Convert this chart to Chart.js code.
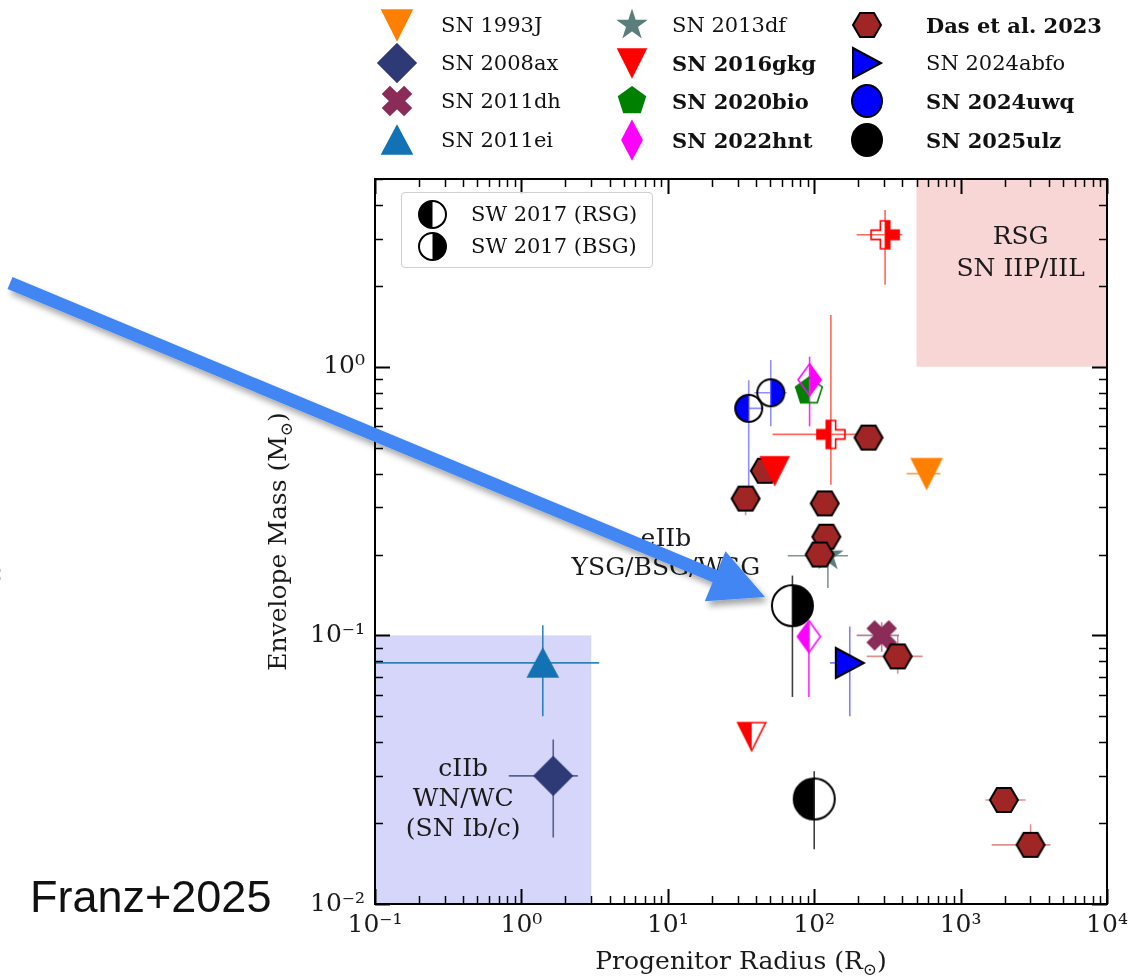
<!DOCTYPE html>
<html>
<head>
<meta charset="utf-8">
<script src="https://cdn.jsdelivr.net/npm/chart.js@4.4.1/dist/chart.umd.min.js"></script>
<style>
  html, body { margin: 0; padding: 0; background: #fff; }
  #wrap { position: relative; width: 1134px; height: 978px; overflow: hidden; background: #fff; }
  #chart { position: absolute; left: 0; top: 0; }
  .leg-text { position: absolute; font-family: "DejaVu Serif", serif; font-size: 21px; line-height: 1; color: #111; white-space: nowrap; transform: translateY(-50%); }
  .leg-text.bold { font-weight: bold; }
  .leg-mark { position: absolute; }
  #inset { position: absolute; left: 401px; top: 192px; width: 250px; height: 74px; border: 1px solid #d0d0d0; border-radius: 4px; background: rgba(255,255,255,0.85); }
  #inset .leg-text { font-size: 21px; }
  #franz { position: absolute; left: 30px; top: 874px; font-family: "Liberation Sans", Arial, sans-serif; font-size: 45px; line-height: 45px; color: #111; }
  #colon { position: absolute; left: -5px; top: 560px; font-family: "Liberation Sans", Arial, sans-serif; font-size: 22px; font-weight: bold; color: #000; }
  #arrow { position: absolute; left: 0; top: 0; }
</style>
</head>
<body>
<div id="wrap">
  <canvas id="chart" width="1134" height="978"></canvas>
  <div id="legend"></div>
  <div id="inset"></div>
  <div id="colon">:</div>
  <div id="franz">Franz+2025</div>
  <svg id="arrow" width="1134" height="978"></svg>
</div>
<script>
// rows: [radius (Rsun), envelope mass (Msun), radius lo, radius hi, mass lo, mass hi]
const sn1993J   = [[586, 0.40, 428, 730, null, null]];
const sn2008ax  = [[1.65, 0.030, 0.82, 2.43, 0.0177, 0.041]];
const sn2011dh  = [[289, 0.100, 195, 380, 0.087, 0.112]];
const sn2011ei  = [[1.40, 0.079, 0.05, 3.4, 0.050, 0.109]];
const sn2013df  = [[124, 0.198, 66, 170, 0.15, 0.26]];
const sn2016gkg = [
  [53.7, 0.41, null, null, null, null],
  [37.4, 0.042, null, null, null, null],
  [305, 3.1, 195, 400, 2.02, 3.83],
  [130, 0.56, 52, 205, 0.364, 1.56]
];
const sn2020bio = [[92, 0.81, null, null, null, null]];
const sn2022hnt = [
  [93, 0.895, null, null, 0.60, 1.09],
  [92, 0.099, null, null, 0.059, 0.112]
];
const das2023 = [
  [235, 0.545, null, null, null, null],
  [46, 0.41, null, null, null, null],
  [34, 0.323, 31, 38, 0.28, 0.36],
  [118, 0.31, null, null, null, null],
  [121, 0.233, null, null, null, null],
  [109, 0.200, null, null, null, null],
  [372, 0.0835, 228, 550, 0.072, 0.100],
  [1977, 0.0244, 1480, 2780, null, null],
  [3006, 0.0166, 1630, 4110, 0.0150, 0.0198]
];
const sn2024abfo = [[175, 0.079, 128, 200, 0.050, 0.108]];
const sn2024uwq  = [
  [35.7, 0.70, 31, 44, 0.315, 0.89],
  [50.5, 0.80, 39, 65, 0.60, 1.06]
];
const sn2025ulz  = [
  [71, 0.129, null, null, 0.059, 0.167],
  [100, 0.0246, null, null, 0.016, 0.0312]
];

const radiusTicks = [0.1, 1, 10, 100, 1000, 10000];
const massTicks = [0.01, 0.1, 1];
const ciibRadius = [0.1, 3], ciibMass = [0.01, 0.1];
const rsgRadius = [500, 10000], rsgMass = [1, 5];
const insetLabels = ['SW 2017 (RSG)', 'SW 2017 (BSG)'];

// marker styles ('L' = left half filled, 'R' = right half filled)
const gkgShapes = ['v', 'v', 'P', 'P'];
const gkgHalves = [null, 'L', 'R', 'L'];

const series = [
  { label: 'SN 1993J', rows: sn1993J, shape: 'v', w: 30, h: 30, color: '#ff8000', err: 'rgba(255,128,0,0.7)', order: 12 },
  { label: 'SN 2008ax', rows: sn2008ax, shape: 'D', w: 38, h: 38, color: '#2e3a76', err: 'rgba(46,58,118,0.75)', order: 11 },
  { label: 'SN 2011dh', rows: sn2011dh, shape: 'X', w: 30, h: 30, color: '#8a2b58', err: 'rgba(138,43,88,0.6)', order: 10 },
  { label: 'SN 2011ei', rows: sn2011ei, shape: '^', w: 30, h: 28, color: '#1272b3', err: 'rgba(18,114,179,0.85)', order: 9 },
  { label: 'SN 2013df', rows: sn2013df, shape: '*', w: 28, h: 28, color: '#5b7d7c', err: 'rgba(91,125,124,0.8)', order: 8 },
  { label: 'SN 2016gkg', rows: sn2016gkg, shape: 'v', w: 28, h: 28, color: '#ff0000', err: 'rgba(255,40,20,0.7)', order: 6, bold: true, shapes: gkgShapes, halves: gkgHalves },
  { label: 'SN 2020bio', rows: sn2020bio, shape: 'p', w: 28, h: 28, color: '#008000', err: 'rgba(0,128,0,0.7)', order: 5, bold: true, halves: ['L'] },
  { label: 'SN 2022hnt', rows: sn2022hnt, shape: 'd', w: 23, h: 32, color: '#ff00ff', err: 'rgba(255,0,255,0.85)', order: 4, bold: true, halves: ['R', 'L'], legW: 20, legH: 38 },
  { label: 'Das et al. 2023', rows: das2023, shape: 'H', w: 28, h: 24, color: '#a02626', edge: '#000', err: 'rgba(200,70,70,0.6)', order: 7, bold: true },
  { label: 'SN 2024abfo', rows: sn2024abfo, shape: '>', w: 28, h: 30, color: '#0000ff', edge: '#000', err: 'rgba(60,60,255,0.65)', order: 3 },
  { label: 'SN 2024uwq', rows: sn2024uwq, shape: 'o', w: 27, h: 27, color: '#0000ff', edge: '#000', err: 'rgba(70,70,255,0.6)', order: 2, bold: true, halves: ['L', 'R'], legW: 30, legH: 32 },
  { label: 'SN 2025ulz', rows: sn2025ulz, shape: 'o', w: 41, h: 41, color: '#000000', edge: '#000', err: 'rgba(0,0,0,0.75)', order: 1, bold: true, halves: ['R', 'L'], legW: 30, legH: 32 }
];

const SERIF = '"DejaVu Serif", serif';

function shapePath(ctx, shape, rx, ry) {
  ctx.beginPath();
  const poly = pts => { pts.forEach(([px, py], i) => i ? ctx.lineTo(px, py) : ctx.moveTo(px, py)); ctx.closePath(); };
  if (shape === 'o') { ctx.ellipse(0, 0, rx, ry, 0, 0, Math.PI * 2); return; }
  if (shape === 'v') return poly([[0, ry], [-rx, -ry], [rx, -ry]]);
  if (shape === '^') return poly([[0, -ry], [rx, ry], [-rx, ry]]);
  if (shape === '>') return poly([[rx, 0], [-rx, ry], [-rx, -ry]]);
  if (shape === 'D' || shape === 'd') return poly([[0, -ry], [rx, 0], [0, ry], [-rx, 0]]);
  if (shape === 'H') return poly([[-rx, 0], [-rx / 2, -ry], [rx / 2, -ry], [rx, 0], [rx / 2, ry], [-rx / 2, ry]]);
  if (shape === 'p' || shape === '*') {
    const n = shape === 'p' ? 5 : 10, pts = [];
    for (let k = 0; k < n; k++) {
      const t = -Math.PI / 2 + k * 2 * Math.PI / n;
      const f = shape === '*' && k % 2 ? 0.382 : 1;
      pts.push([rx * f * Math.cos(t), ry * f * Math.sin(t)]);
    }
    return poly(pts);
  }
  // filled plus / filled x
  const r = rx, a = rx / 3;
  let pts = [[-a, -r], [a, -r], [a, -a], [r, -a], [r, a], [a, a], [a, r], [-a, r], [-a, a], [-r, a], [-r, -a], [-a, -a]];
  if (shape === 'X') pts = pts.map(([px, py]) => [(px - py) / Math.SQRT2, (px + py) / Math.SQRT2]);
  poly(pts);
}

function makeMarker(shape, w, h, fill, edge, half, lw) {
  const pad = 4;
  const cv = document.createElement('canvas');
  cv.width = Math.ceil(w) + pad * 2;
  cv.height = Math.ceil(h) + pad * 2;
  const ctx = cv.getContext('2d');
  ctx.translate(cv.width / 2, cv.height / 2);
  shapePath(ctx, shape, w / 2, h / 2);
  ctx.fillStyle = fill;
  if (!half) {
    ctx.fill();
  } else {
    ctx.save();
    ctx.clip();
    ctx.fillRect(half === 'L' ? -cv.width : 0, -cv.height, cv.width, cv.height * 2);
    ctx.restore();
  }
  ctx.lineWidth = lw;
  ctx.strokeStyle = edge;
  ctx.lineJoin = 'miter';
  ctx.stroke();
  return cv;
}

function pointStyles(s) {
  return s.rows.map((r, i) => {
    const shape = s.shapes ? s.shapes[i] : s.shape;
    const half = s.halves ? s.halves[i] : null;
    return makeMarker(shape, s.w, s.h, s.color, s.edge || s.color, half, s.edge ? 2 : 1.6);
  });
}

const supMap = { '-': '\u207B', '0': '\u2070', '1': '\u00B9', '2': '\u00B2', '3': '\u00B3', '4': '\u2074' };
const expLabel = v => '10' + String(Math.round(Math.log10(v))).split('').map(c => supMap[c]).join('');

function logSteps(min, max) {
  const out = [];
  for (let e = Math.floor(Math.log10(min)); e <= Math.ceil(Math.log10(max)); e++) {
    for (let k = 1; k < 10; k++) {
      const v = k * Math.pow(10, e);
      if (v >= min * 0.9999 && v <= max * 1.0001) out.push({ v, major: k === 1 });
    }
  }
  return out;
}

function drawLabel(ctx, parts, x, y, size) {
  // parts: [text, sub, tail] -> text with a lowered small symbol
  const big = size + 'px ' + SERIF, small = Math.round(size * 0.68) + 'px ' + SERIF;
  ctx.font = big; const w1 = ctx.measureText(parts[0]).width, w3 = ctx.measureText(parts[2]).width;
  ctx.font = small; const w2 = ctx.measureText(parts[1]).width;
  let cx = x - (w1 + w2 + w3) / 2;
  ctx.textAlign = 'left'; ctx.textBaseline = 'alphabetic';
  ctx.font = big; ctx.fillText(parts[0], cx, y); cx += w1;
  ctx.font = small; ctx.fillText(parts[1], cx, y + size * 0.22); cx += w2;
  ctx.font = big; ctx.fillText(parts[2], cx, y);
}

const decor = {
  id: 'decor',
  beforeDatasetsDraw(chart) {
    const { ctx, chartArea: a, scales: { x, y } } = chart;
    ctx.save();
    ctx.beginPath(); ctx.rect(a.left, a.top, a.width, a.height); ctx.clip();
    const shade = (xr, yr, col) => {
      const x0 = x.getPixelForValue(xr[0]), x1 = x.getPixelForValue(xr[1]);
      const y0 = y.getPixelForValue(yr[0]), y1 = y.getPixelForValue(yr[1]);
      ctx.fillStyle = col;
      ctx.fillRect(x0, y1, x1 - x0, y0 - y1);
    };
    shade(ciibRadius, ciibMass, 'rgb(214,214,250)');
    shade(rsgRadius, rsgMass, 'rgb(249,214,214)');

    ctx.fillStyle = '#1a1a1a';
    ctx.font = '25px ' + SERIF;
    ctx.textAlign = 'center'; ctx.textBaseline = 'middle';
    const block = (lines, xv, yv, gap) => {
      const px = x.getPixelForValue(xv), py = y.getPixelForValue(yv);
      lines.forEach((t, i) => ctx.fillText(t, px, py + i * gap));
    };
    block(['RSG', 'SN IIP/IIL'], 2570, 3.02, 32);
    block(['eIIb', 'YSG/BSG/WSG'], 9.7, 0.227, 29);
    block(['cIIb', 'WN/WC', '(SN Ib/c)'], 0.40, 0.0318, 30);

    ctx.lineWidth = 1.6;
    series.forEach(s => {
      ctx.strokeStyle = s.err;
      s.rows.forEach(r => {
        const px = x.getPixelForValue(r[0]), py = y.getPixelForValue(r[1]);
        ctx.beginPath();
        if (r[2] != null) { ctx.moveTo(x.getPixelForValue(r[2]), py); ctx.lineTo(x.getPixelForValue(r[3]), py); }
        if (r[4] != null) { ctx.moveTo(px, y.getPixelForValue(r[4])); ctx.lineTo(px, y.getPixelForValue(r[5])); }
        ctx.stroke();
      });
    });
    ctx.restore();
  },
  afterDatasetsDraw(chart) {
    const { ctx, chartArea: a, scales: { x, y } } = chart;
    ctx.save();
    ctx.strokeStyle = '#000';
    logSteps(x.min, x.max).forEach(t => {
      const px = Math.round(x.getPixelForValue(t.v)) + 0.5, len = t.major ? 15 : 8;
      ctx.lineWidth = t.major ? 2 : 1.5;
      ctx.beginPath();
      ctx.moveTo(px, a.bottom); ctx.lineTo(px, a.bottom - len);
      ctx.moveTo(px, a.top); ctx.lineTo(px, a.top + len);
      ctx.stroke();
    });
    logSteps(y.min, y.max).forEach(t => {
      const py = Math.round(y.getPixelForValue(t.v)) + 0.5, len = t.major ? 15 : 8;
      ctx.lineWidth = t.major ? 2 : 1.5;
      ctx.beginPath();
      ctx.moveTo(a.left, py); ctx.lineTo(a.left + len, py);
      ctx.moveTo(a.right, py); ctx.lineTo(a.right - len, py);
      ctx.stroke();
    });
    ctx.lineWidth = 2;
    ctx.strokeRect(a.left, a.top, a.width, a.height);

    ctx.fillStyle = '#1a1a1a';
    drawLabel(ctx, ['Progenitor Radius (R', '\u2299', ')'], (a.left + a.right) / 2, 969, 25);
    ctx.translate(286, (a.top + a.bottom) / 2);
    ctx.rotate(-Math.PI / 2);
    drawLabel(ctx, ['Envelope Mass (M', '\u2299', ')'], 0, 0, 25);
    ctx.restore();
  }
};

const datasets = series.map(s => ({
  label: s.label,
  data: s.rows.map(r => ({ x: r[0], y: r[1] })),
  pointStyle: pointStyles(s),
  pointRadius: 12,
  order: s.order
}));

new Chart(document.getElementById('chart').getContext('2d'), {
  type: 'scatter',
  data: { datasets },
  options: {
    responsive: false,
    animation: false,
    devicePixelRatio: 1,
    layout: { padding: { left: 262, right: 27, top: 179, bottom: 0 } },
    plugins: { legend: { display: false }, tooltip: { enabled: false } },
    scales: {
      x: {
        type: 'logarithmic', min: 0.1, max: 10000, position: 'bottom',
        afterBuildTicks: s => { s.ticks = radiusTicks.map(v => ({ value: v })); },
        afterFit: s => { s.height = 74; },
        ticks: { callback: v => expLabel(v), font: { family: SERIF, size: 25 }, color: '#1a1a1a', padding: 6, maxRotation: 0, autoSkip: false },
        grid: { display: false, drawTicks: false },
        border: { display: false }
      },
      y: {
        type: 'logarithmic', min: 0.01, max: 5,
        afterBuildTicks: s => { s.ticks = massTicks.map(v => ({ value: v })); },
        afterFit: s => { s.width = 113; },
        ticks: { callback: v => expLabel(v), font: { family: SERIF, size: 25 }, color: '#1a1a1a', padding: 10, autoSkip: false },
        grid: { display: false, drawTicks: false },
        border: { display: false }
      }
    }
  },
  plugins: [decor]
});

// top legend, 3 columns x 4 rows (column-major)
const legendCols = [{ mx: 397, tx: 441 }, { mx: 632, tx: 672 }, { mx: 867, tx: 926 }];
const legendRows = [25, 63, 101, 140];
const legendEl = document.getElementById('legend');
series.forEach((s, i) => {
  const col = legendCols[Math.floor(i / 4)], yy = legendRows[i % 4];
  const cv = makeMarker(s.shape, s.legW || s.w, s.legH || s.h, s.color, s.edge || s.color, null, s.edge ? 2 : 1.6);
  cv.className = 'leg-mark';
  cv.style.left = (col.mx - cv.width / 2) + 'px';
  cv.style.top = (yy - cv.height / 2) + 'px';
  legendEl.appendChild(cv);
  const t = document.createElement('span');
  t.className = 'leg-text' + (s.bold ? ' bold' : '');
  t.textContent = s.label;
  t.style.left = col.tx + 'px';
  t.style.top = yy + 'px';
  legendEl.appendChild(t);
});

// inset legend for the SW 2017 half-filled markers
const insetEl = document.getElementById('inset');
['L', 'R'].forEach((half, i) => {
  const yy = 21 + i * 32;
  const cv = makeMarker('o', 27, 27, '#000', '#000', half, 2);
  cv.className = 'leg-mark';
  cv.style.left = (30 - cv.width / 2) + 'px';
  cv.style.top = (yy - cv.height / 2) + 'px';
  insetEl.appendChild(cv);
  const t = document.createElement('span');
  t.className = 'leg-text';
  t.textContent = insetLabels[i];
  t.style.left = '69px';
  t.style.top = yy + 'px';
  insetEl.appendChild(t);
});

// callout arrow
(function () {
  const tail = [10, 283], tip = [765, 597], headLen = 54, headHalf = 27, shaftHalf = 6.5;
  const dx = tip[0] - tail[0], dy = tip[1] - tail[1], L = Math.hypot(dx, dy);
  const ux = dx / L, uy = dy / L, nx = -uy, ny = ux;
  const bx = tip[0] - ux * headLen, by = tip[1] - uy * headLen;
  const pts = [
    [tail[0] + nx * shaftHalf, tail[1] + ny * shaftHalf],
    [bx + nx * shaftHalf, by + ny * shaftHalf],
    [bx + nx * headHalf, by + ny * headHalf],
    tip,
    [bx - nx * headHalf, by - ny * headHalf],
    [bx - nx * shaftHalf, by - ny * shaftHalf],
    [tail[0] - nx * shaftHalf, tail[1] - ny * shaftHalf]
  ];
  document.getElementById('arrow').innerHTML =
    '<defs><filter id="sh" x="-10%" y="-10%" width="120%" height="130%">' +
    '<feDropShadow dx="3" dy="5" stdDeviation="3" flood-color="#000" flood-opacity="0.35"/></filter></defs>' +
    '<polygon filter="url(#sh)" fill="#4286f4" points="' + pts.map(p => p[0].toFixed(1) + ',' + p[1].toFixed(1)).join(' ') + '"/>';
})();
</script>
</body>
</html>
